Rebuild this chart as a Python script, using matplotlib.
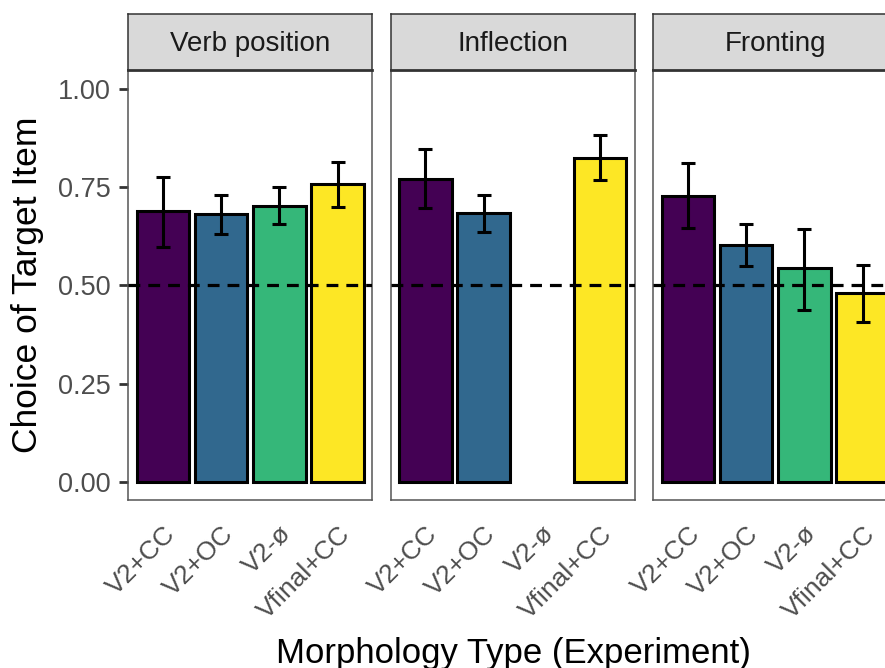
import numpy as np
import matplotlib
matplotlib.use("Agg")
import matplotlib.pyplot as plt

plt.rcParams['font.family'] = ['Liberation Sans', 'DejaVu Sans']

# data
panels = ['Verb position', 'Inflection', 'Fronting']
categories = ['V2+CC', 'V2+OC', 'V2-ø', 'Vfinal+CC']
colors = ['#440154', '#31688E', '#35B779', '#FDE725']

means = {
    'Verb position': [0.688, 0.682, 0.703, 0.758],
    'Inflection': [0.771, 0.683, None, 0.825],
    'Fronting': [0.728, 0.604, 0.543, 0.480],
}
lower = {
    'Verb position': [0.598, 0.631, 0.656, 0.700],
    'Inflection': [0.697, 0.636, None, 0.767],
    'Fronting': [0.646, 0.550, 0.438, 0.407],
}
upper = {
    'Verb position': [0.776, 0.730, 0.750, 0.814],
    'Inflection': [0.847, 0.731, None, 0.883],
    'Fronting': [0.811, 0.657, 0.644, 0.552],
}

W, H = 885, 668
fig = plt.figure(figsize=(W / 100, H / 100), dpi=100)

def px_axes(x0, y0, x1, y1):
    # pixel box (top-left origin) -> figure axes
    return fig.add_axes([x0 / W, 1 - y1 / H, (x1 - x0) / W, (y1 - y0) / H])

lefts = [128, 390.5, 653]
pw = 244.5
border = '#555555'

for i, name in enumerate(panels):
    ax = px_axes(lefts[i], 70, lefts[i] + pw, 500)
    x = np.arange(1, len(categories) + 1)
    for j, cat in enumerate(categories):
        m = means[name][j]
        if m is None:
            continue
        ax.bar(x[j], m, width=0.9, color=colors[j], edgecolor='black', linewidth=2.2, zorder=2)
        ax.errorbar(x[j], m, yerr=[[m - lower[name][j]], [upper[name][j] - m]],
                    color='black', elinewidth=2.2, capsize=4.8, capthick=2.2, zorder=3)
    ax.axhline(0.5, color='black', linewidth=2.3, dashes=(3.7, 2.5), zorder=4)
    ax.set_xlim(0.4, 4.6)
    ax.set_ylim(-0.046, 1.048)
    ax.set_xticks(x)
    ax.set_xticklabels(categories, rotation=45, ha='right', va='top',
                       rotation_mode='anchor', fontsize=19, color='#4D4D4D')
    ax.tick_params(axis='x', length=0, pad=15.5)
    ax.set_yticks([0, 0.25, 0.5, 0.75, 1.0])
    if i == 0:
        ax.set_yticklabels(['0.00', '0.25', '0.50', '0.75', '1.00'], fontsize=19.5, color='#4D4D4D')
        ax.tick_params(axis='y', length=6.5, width=2.0, color='#333333', pad=6)
    else:
        ax.tick_params(axis='y', length=0, labelleft=False)
    for s in ax.spines.values():
        s.set_color(border)
        s.set_linewidth(1.1)

    sax = px_axes(lefts[i], 14, lefts[i] + pw, 70)
    sax.set_facecolor('#D9D9D9')
    sax.set_xticks([])
    sax.set_yticks([])
    for s in sax.spines.values():
        s.set_color('#333333')
        s.set_linewidth(1.1)
    sax.spines['bottom'].set_linewidth(2.0)
    sax.text(0.5, 0.47, name, ha='center', va='center', fontsize=20, color='#1A1A1A',
             transform=sax.transAxes)

fig.text(513 / W, 1 - 653 / H, 'Morphology Type (Experiment)', ha='center', va='center',
         fontsize=25, color='black')
fig.text(28 / W, 1 - 285 / H, 'Choice of Target Item', ha='center', va='center',
         rotation=90, fontsize=25.5, color='black')

fig.savefig('out.png', dpi=100)
